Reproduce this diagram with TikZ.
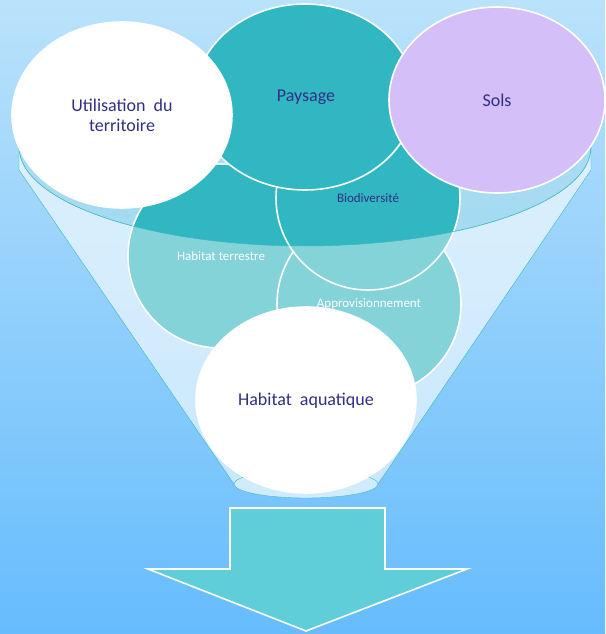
\documentclass[tikz,border=0pt]{standalone}
\usepackage{fontspec}
\setmainfont{Carlito}
\usetikzlibrary{shapes.geometric}

\definecolor{bgtop}{RGB}{186,226,251}
\definecolor{bgbot}{RGB}{102,188,253}
\definecolor{teal}{RGB}{49,183,193}
\definecolor{lavender}{RGB}{213,191,249}
\definecolor{navy}{RGB}{48,47,133}
\definecolor{arrowfill}{RGB}{96,206,216}

\tikzset{
    bubble/.style={ellipse, draw=white, line width=1.6pt, inner sep=0pt},
    big/.style={bubble, minimum width=220pt, minimum height=186pt},
    inner/.style={bubble, fill=teal, minimum width=184pt, minimum height=184pt},
    lbl/.style={text=navy, font=\fontsize{18}{20}\selectfont, align=center},
    small/.style={font=\fontsize{13}{15}\selectfont},
}

\begin{document}
\begin{tikzpicture}[x=1pt, y=-1pt]
    % background
    \fill[top color=bgtop, bottom color=bgbot] (0,0) rectangle (605,634);
    \useasboundingbox (0,0) rectangle (605,634);

    % funnel, back part
    \fill[white, fill opacity=0.35] (19,147) -- (19,170) -- (234,484)
        arc[start angle=180, end angle=0, x radius=72, y radius=14]
        -- (591,170) -- (591,147)
        arc[start angle=0, end angle=-180, x radius=286, y radius=99] -- cycle;
    \filldraw[draw=teal, fill=teal, fill opacity=0.18] (305,147) ellipse[x radius=286, y radius=99];

    % circles inside the funnel
    \node[inner] (terrestre) at (220,256) {};
    \node[inner] (approv) at (369,304) {};
    \node[inner] (biodiv) at (368,198) {};

    % funnel, front part
    \fill[white, fill opacity=0.4] (19,147)
        arc[start angle=180, end angle=0, x radius=286, y radius=99]
        -- (591,170) -- (378,484)
        arc[start angle=0, end angle=180, x radius=72, y radius=14]
        -- (19,170) -- cycle;
    \draw[teal] (19,147) arc[start angle=180, end angle=0, x radius=286, y radius=99];
    \draw[teal] (19,147) -- (19,170) -- (234,484);
    \draw[teal] (591,147) -- (591,170) -- (378,484);
    \filldraw[draw=teal, fill=bgtop!70!white] (306,484) ellipse[x radius=72, y radius=14];

    % circles on top
    \node[big, fill=teal] (paysage) at (305,97) {};
    \node[big, fill=white] (utilisation) at (122,115) {};
    \node[big, fill=lavender, minimum width=216pt] (sols) at (497,100) {};
    \node[big, fill=white] (aquatique) at (306,400) {};

    % labels
    \node[small, text=white] (terrestre-t) at (221,256) {Habitat terrestre};
    \node[small, text=white] (approv-t) at (369,304) {Approvisionnement};
    \node[small, text=navy] (biodiv-t) at (368,198) {Biodiversité};
    \node[lbl] (utilisation-t) at (122,115) {Utilisation~~du\\territoire};
    \node[lbl] (paysage-t) at (306,97) {Paysage};
    \node[lbl] (sols-t) at (497,100) {Sols};
    \node[lbl] (aquatique-t) at (306,401) {Habitat~~aquatique};

    % arrow
    \filldraw[fill=arrowfill, draw=white, line width=1.6pt] (230,508) -- (385,508) -- (385,569)
        -- (467,569) -- (306,631) -- (148,569) -- (230,569) -- cycle;
\end{tikzpicture}
\end{document}
